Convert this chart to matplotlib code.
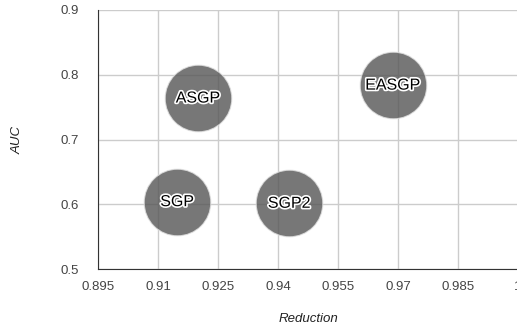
import matplotlib.pyplot as plt
import matplotlib.patheffects as pe

plt.rcParams["font.family"] = ["Liberation Sans", "DejaVu Sans"]

# bubble data
labels = ["ASGP", "EASGP", "SGP", "SGP2"]
reduction = [0.920, 0.9687, 0.9148, 0.9428]
auc = [0.764, 0.784, 0.604, 0.6015]

x_ticks = [0.895, 0.91, 0.925, 0.94, 0.955, 0.97, 0.985, 1.0]
x_tick_labels = ["0.895", "0.91", "0.925", "0.94", "0.955", "0.97", "0.985", "1"]
y_ticks = [0.5, 0.6, 0.7, 0.8, 0.9]
y_tick_labels = ["0.5", "0.6", "0.7", "0.8", "0.9"]

fig = plt.figure(figsize=(5.17, 3.28), dpi=100)
ax = fig.add_axes([98 / 517, 59 / 328, 420 / 517, 259 / 328])

ax.scatter(reduction, auc, s=2300, color="#555555", alpha=0.8,
           edgecolors="#e0e0e0", linewidths=0.8, zorder=3)

for name, xv, yv in zip(labels, reduction, auc):
    ax.text(xv, yv, name, ha="center", va="center", fontsize=11.5,
            color="black", zorder=4,
            path_effects=[pe.withStroke(linewidth=2.4, foreground="white")])

ax.set_xlim(0.895, 1.0)
ax.set_ylim(0.5, 0.9)
ax.set_xticks(x_ticks)
ax.set_xticklabels(x_tick_labels)
ax.set_yticks(y_ticks)
ax.set_yticklabels(y_tick_labels)

ax.grid(True, color="#cccccc", linewidth=1.0, zorder=0)
ax.set_axisbelow(True)

for side in ["top", "right"]:
    ax.spines[side].set_visible(False)
ax.spines["left"].set_color("#333333")
ax.spines["bottom"].set_color("#333333")

ax.tick_params(axis="both", length=0, labelsize=9.5, labelcolor="#444444")
ax.tick_params(axis="x", pad=9)
ax.tick_params(axis="y", pad=14)

ax.set_xlabel("Reduction", fontsize=9.5, style="italic", color="#222222",
              labelpad=14)
ax.set_ylabel("AUC", fontsize=9.5, style="italic", color="#222222",
              labelpad=26)

plt.savefig("out.png", dpi=100)
plt.close()
